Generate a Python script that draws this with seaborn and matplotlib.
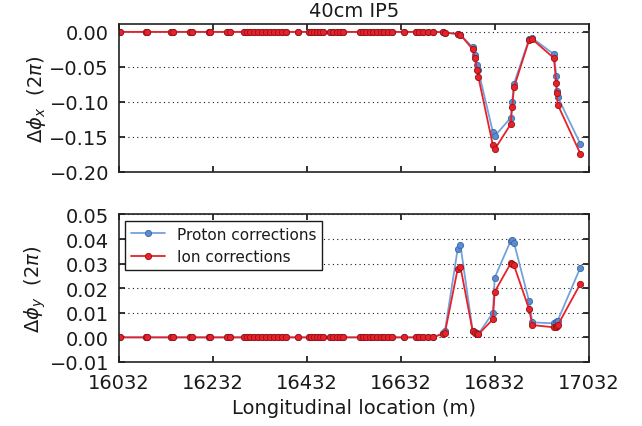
import numpy as np
import pandas as pd
import matplotlib
matplotlib.use('Agg')
import matplotlib.pyplot as plt
import seaborn as sns

# longitudinal positions (m)
s_flat = [16032, 16034, 16090, 16093, 16144, 16148, 16183, 16187, 16223, 16227,
          16262, 16268, 16298, 16304, 16312, 16320, 16328, 16336, 16345, 16354,
          16362, 16371, 16380, 16388, 16413, 16436, 16441, 16447, 16453, 16460,
          16466, 16481, 16488, 16496, 16503, 16509, 16545, 16552, 16559, 16566,
          16574, 16581, 16589, 16597, 16605, 16613, 16640, 16665, 16671, 16680,
          16690, 16700]
s_arc = [16721, 16726, 16753, 16759, 16785, 16790, 16794, 16797, 16828, 16832,
         16866, 16869, 16873, 16905, 16912, 16958, 16963, 16964, 16966, 17014]

# horizontal phase deviation (2 pi)
dx_proton_arc = [-0.0005, -0.001, -0.003, -0.004, -0.022, -0.033, -0.047, -0.055,
                 -0.143, -0.149, -0.123, -0.101, -0.074, -0.0105, -0.009,
                 -0.032, -0.063, -0.085, -0.093, -0.160]
dx_ion_arc = [-0.0005, -0.001, -0.003, -0.004, -0.025, -0.038, -0.055, -0.064,
              -0.162, -0.168, -0.132, -0.108, -0.0795, -0.012, -0.0105,
              -0.0376, -0.073, -0.0876, -0.104, -0.174]

# vertical phase deviation (2 pi)
dy_proton_arc = [0.0016, 0.0025, 0.0358, 0.0376, 0.0027, 0.0020, 0.0016, 0.0013,
                 0.0100, 0.0243, 0.0393, 0.0395, 0.0385, 0.0148, 0.0061,
                 0.0057, 0.0062, 0.0065, 0.0068, 0.0283]
dy_ion_arc = [0.0014, 0.0018, 0.0277, 0.0287, 0.0026, 0.0019, 0.0015, 0.0012,
              0.0073, 0.0186, 0.0301, 0.0300, 0.0293, 0.0115, 0.0050,
              0.0041, 0.0044, 0.0047, 0.0049, 0.0217]

s = s_flat + s_arc
zeros = [0.0] * len(s_flat)

sns.set_theme(style='ticks', rc={
    'xtick.direction': 'in', 'ytick.direction': 'in',
    'xtick.top': True, 'ytick.right': True,
    'xtick.major.size': 4, 'ytick.major.size': 4,
    'xtick.major.pad': 8, 'ytick.major.pad': 7,
    'axes.edgecolor': '#222222', 'axes.linewidth': 1.2,
    'text.color': 'k', 'axes.labelcolor': 'k',
    'xtick.color': 'k', 'ytick.color': 'k',
    'axes.unicode_minus': True,
})
plt.rcParams['font.family'] = ['DejaVu Sans']
plt.rcParams['mathtext.fontset'] = 'dejavusans'

blue = '#74a2db'
blue_edge = '#3b68a8'
red = '#e8212b'
red_edge = '#9b1010'

fmt = matplotlib.ticker.FuncFormatter(lambda v, p: ('%.2f' % v).replace('-', '\u2212'))

fig, (ax1, ax2) = plt.subplots(2, 1, figsize=(6.42, 4.27), dpi=100)
fig.subplots_adjust(left=0.185, right=0.917, top=0.941, bottom=0.150, hspace=0.29)

panels = [
    (ax1, zeros + dx_proton_arc, zeros + dx_ion_arc),
    (ax2, zeros + dy_proton_arc, zeros + dy_ion_arc),
]
for ax, yp, yi in panels:
    sns.lineplot(x=s, y=yp, ax=ax, color=blue, marker='o', markersize=4.5,
                 markerfacecolor='#5a8ccf', markeredgecolor=blue_edge,
                 markeredgewidth=0.6, linewidth=1.3,
                 sort=False, estimator=None, label='Proton corrections')
    sns.lineplot(x=s, y=yi, ax=ax, color=red, marker='o', markersize=4.5,
                 markeredgecolor=red_edge, markeredgewidth=0.6, linewidth=1.3,
                 sort=False, estimator=None, label='Ion corrections')
    ax.set_xlim(16032, 17032)
    ax.set_xticks([16032, 16232, 16432, 16632, 16832, 17032])
    ax.yaxis.grid(True, linestyle=(0, (1, 3)), color='k', linewidth=0.8)
    ax.yaxis.set_major_formatter(fmt)
    ax.tick_params(labelsize=14)

ax1.set_ylim(-0.2, 0.011)
ax1.set_yticks([0.0, -0.05, -0.10, -0.15, -0.20])
ax1.set_xticklabels([])
ax1.get_legend().remove()
ax1.set_title('40cm IP5', fontsize=14, pad=6)
ax1.set_ylabel(r'$\Delta\phi_x\ \ (2\pi)$', fontsize=14, labelpad=1)

ax2.set_ylim(-0.01, 0.05)
ax2.set_yticks([-0.01, 0.0, 0.01, 0.02, 0.03, 0.04, 0.05])
ax2.set_ylabel(r'$\Delta\phi_y\ \ (2\pi)$', fontsize=14, labelpad=1)
ax2.set_xlabel('Longitudinal location (m)', fontsize=14)
leg = ax2.legend(loc='upper left', fontsize=11, frameon=True, fancybox=False,
                 edgecolor='k', framealpha=1, borderaxespad=0.4, handlelength=2.2)
leg.get_frame().set_linewidth(1.0)

fig.align_ylabels([ax1, ax2])
fig.savefig('out.png', dpi=100)
